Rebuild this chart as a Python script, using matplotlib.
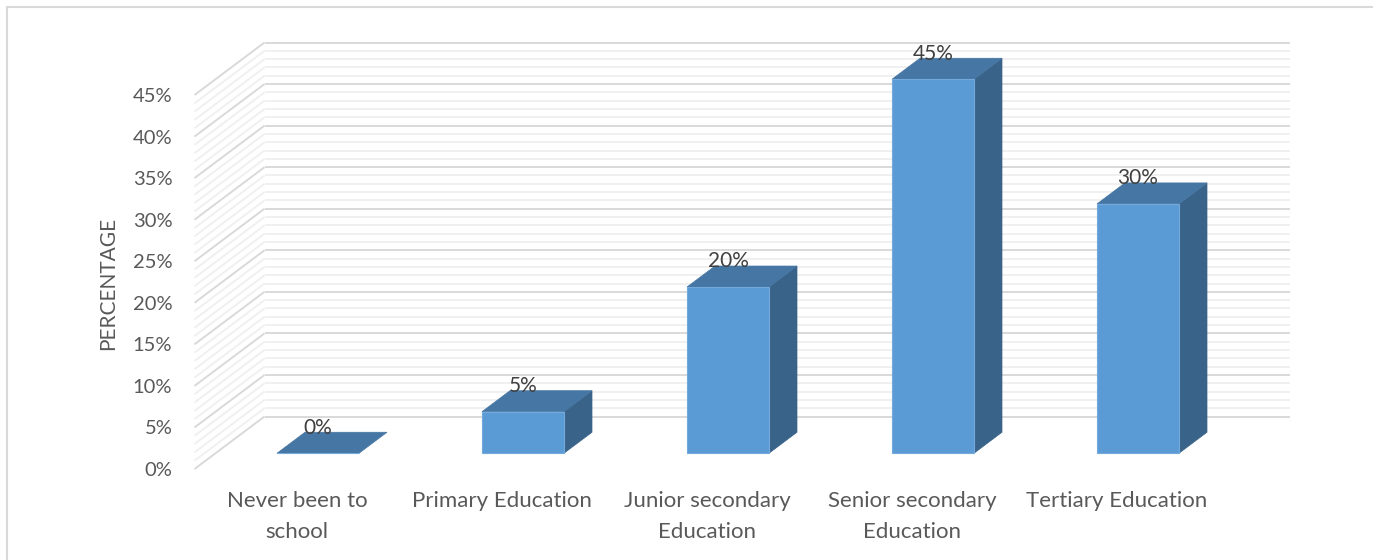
import matplotlib.pyplot as plt
from matplotlib.patches import Polygon, Rectangle

plt.rcParams['font.family'] = ['Lato', 'DejaVu Sans']

# Data
categories = ['Never been to\nschool', 'Primary Education', 'Junior secondary\nEducation',
              'Senior secondary\nEducation', 'Tertiary Education']
values = [0, 5, 20, 45, 30]
yticks = list(range(0, 50, 5))

# Figure / pseudo 3D geometry
W, H = 1373, 560
fig = plt.figure(figsize=(W / 100, H / 100), dpi=100)
ax = fig.add_axes([194.5 / W, 91 / H, 1025 / W, 374 / H])
ax.set_xlim(-0.5, 4.5)
ax.set_ylim(0, 45)

DX = 70 / 205.0        # full depth shift in x (category units)
DY = 52.5 / (374 / 45)  # full depth shift in y (percent units)
t0, t1 = 0.30, 0.70     # bar front / back depth
bw = 0.4

front_col = '#5b9bd5'
top_col = '#4676a3'
side_col = '#3a6389'

# ---- back wall + side wall grid ----
for y in range(0, 46):
    major = (y % 5 == 0)
    col = '#d9d9d9' if major else '#f0f0f0'
    z = 2 if major else 1
    ax.plot([-0.5 + DX, 4.5 + DX], [y + DY, y + DY], color=col, lw=1.4,
            clip_on=False, zorder=z, solid_capstyle='butt')
    ax.plot([-0.5, -0.5 + DX], [y, y + DY], color=col, lw=1.4,
            clip_on=False, zorder=z, solid_capstyle='butt')

# ---- bars ----
xs = [i + t0 * DX for i in range(len(values))]
ax.bar(xs, values, width=bw, bottom=t0 * DY, color=front_col,
       edgecolor='#74aadb', linewidth=0.8, zorder=5, clip_on=False)

ddx = (t1 - t0) * DX
ddy = (t1 - t0) * DY
for x, v in zip(xs, values):
    xl, xr = x - bw / 2, x + bw / 2
    yb, yt = t0 * DY, t0 * DY + v
    if v > 0:
        side = Polygon([(xr, yb), (xr + ddx, yb + ddy), (xr + ddx, yt + ddy), (xr, yt)],
                       closed=True, facecolor=side_col, edgecolor=side_col, lw=0.5,
                       zorder=4, clip_on=False)
        ax.add_patch(side)
    top = Polygon([(xl, yt), (xl + ddx, yt + ddy), (xr + ddx, yt + ddy), (xr, yt)],
                  closed=True, facecolor=top_col, edgecolor=top_col, lw=0.5,
                  zorder=4, clip_on=False)
    ax.add_patch(top)
    ax.text(x, yt + ddy + 0.55, f'{v}%', ha='center', va='center', fontsize=15,
            color='#404040', zorder=7, clip_on=False)

# ---- axes styling ----
for s in ax.spines.values():
    s.set_visible(False)
ax.set_yticks(yticks)
ax.set_yticklabels([f'{v}%' for v in yticks])
ax.set_xticks(range(len(categories)))
ax.set_xticklabels(categories, linespacing=1.65)
ax.tick_params(axis='y', length=0, pad=16, labelsize=14.5, labelcolor='#595959')
ax.tick_params(axis='x', length=0, pad=16, labelsize=16, labelcolor='#595959')
ax.patch.set_visible(False)

fig.text(108 / W, 1 - 283 / H, 'PERCENTAGE', rotation=90, ha='center', va='center',
         fontsize=15, color='#595959')

# chart border
fig.add_artist(Rectangle((6.5 / W, -0.1), 1.2, 1.1 - 6.5 / H, transform=fig.transFigure,
                         fill=False, edgecolor='#d9d9d9', linewidth=1.5))

fig.savefig('out.png', dpi=100)
